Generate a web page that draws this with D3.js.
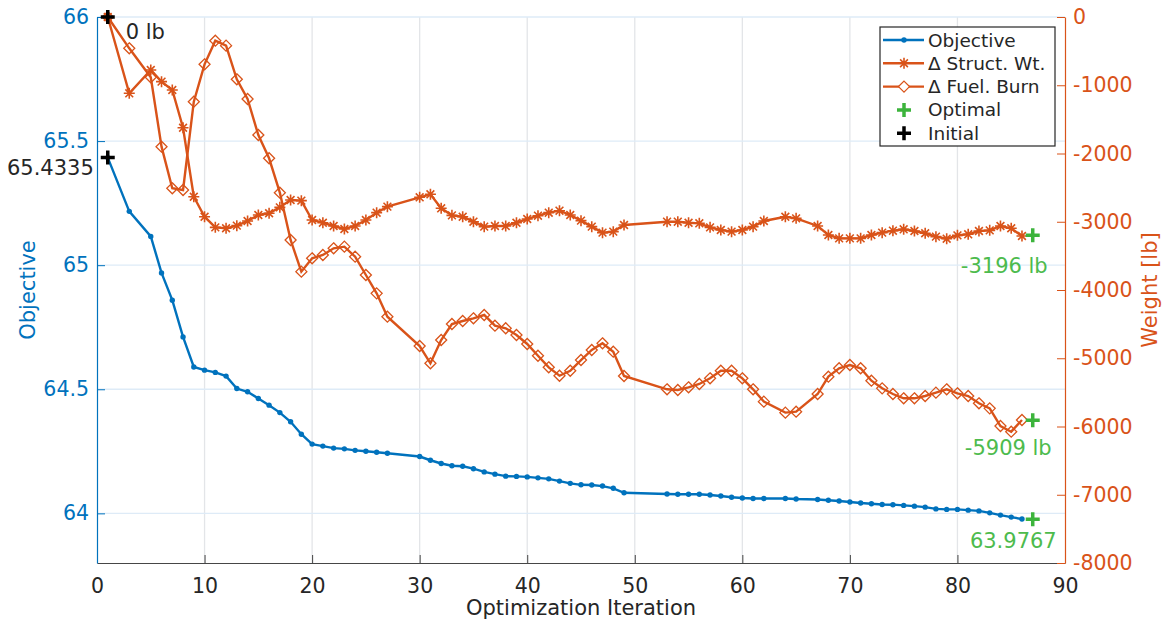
<!DOCTYPE html>
<html>
<head>
<meta charset="utf-8">
<script src="https://cdn.jsdelivr.net/npm/d3@7"></script>
<style>
  body { margin: 0; background: #fff; }
  svg { display: block; font-family: "DejaVu Sans", sans-serif; }
</style>
</head>
<body>
<svg id="chart" width="1166" height="623"></svg>
<script>
// iterations that were recorded (some iterations have no point)
const iterations = [1, 3, 5, 6, 7, 8, 9, 10, 11, 12, 13, 14, 15, 16, 17, 18, 19, 20, 21, 22, 23, 24, 25, 26, 27,
  30, 31, 32, 33, 34, 35, 36, 37, 38, 39, 40, 41, 42, 43, 44, 45, 46, 47, 48, 49,
  53, 54, 55, 56, 57, 58, 59, 60, 61, 62, 64, 65,
  67, 68, 69, 70, 71, 72, 73, 74, 75, 76, 77, 78, 79, 80, 81, 82, 83, 84, 85, 86];

const objective = [65.4335, 65.217, 65.116, 64.969, 64.859, 64.711, 64.59, 64.577, 64.568, 64.553, 64.503, 64.49,
  64.463, 64.436, 64.406, 64.369, 64.319, 64.279, 64.271, 64.263, 64.26, 64.254, 64.25, 64.246, 64.242,
  64.229, 64.214, 64.201, 64.192, 64.19, 64.18, 64.167, 64.158, 64.15, 64.149, 64.147, 64.143, 64.139, 64.13,
  64.121, 64.115, 64.114, 64.11, 64.101, 64.083,
  64.078, 64.077, 64.077, 64.077, 64.074, 64.07, 64.065, 64.062, 64.06, 64.06, 64.06, 64.058,
  64.056, 64.053, 64.05, 64.046, 64.042, 64.039, 64.036, 64.035, 64.032, 64.029, 64.025, 64.018, 64.016,
  64.016, 64.013, 64.01, 64.002, 63.993, 63.985, 63.977];

const structWt = [0, -1118, -777, -947, -1070, -1622, -2633, -2926, -3082, -3096, -3057, -2989, -2901, -2876,
  -2789, -2681, -2691, -2974, -3014, -3062, -3106, -3062, -2974, -2867, -2779,
  -2642, -2598, -2803, -2906, -2926, -2999, -3072, -3062, -3062, -3014, -2960, -2911, -2867, -2838, -2901,
  -2984, -3072, -3160, -3145, -3048,
  -2999, -2999, -3014, -3023, -3082, -3121, -3145, -3121, -3072, -2989, -2926, -2950,
  -3062, -3194, -3243, -3243, -3243, -3194, -3160, -3131, -3111, -3136, -3169, -3218, -3248, -3199,
  -3184, -3136, -3126, -3062, -3096, -3209];

const fuelBurn = [0, -459, -884, -1900, -2510, -2535, -1241, -693, -347, -420, -913, -1201, -1729, -2070,
  -2574, -3267, -3731, -3536, -3487, -3389, -3365, -3512, -3780, -4049, -4391,
  -4821, -5074, -4733, -4498, -4454, -4415, -4366, -4523, -4561, -4659, -4791, -4963, -5133, -5256, -5183,
  -5026, -4879, -4781, -4904, -5260,
  -5455, -5465, -5426, -5377, -5294, -5183, -5183, -5294, -5455, -5636, -5797, -5783,
  -5524, -5270, -5147, -5099, -5147, -5329, -5441, -5524, -5587, -5587, -5553, -5504, -5455, -5514,
  -5553, -5660, -5734, -5993, -6076, -5905];

const initialIter = 1;
const optimalIter = 87;
const optimal = { objective: 63.9767, structWt: -3196, fuelBurn: -5909 };

const xTicks = [0, 10, 20, 30, 40, 50, 60, 70, 80, 90];
const leftTicks = [64, 64.5, 65, 65.5, 66];
const rightTicks = [0, -1000, -2000, -3000, -4000, -5000, -6000, -7000, -8000];
const legendLabels = ["Objective", "\u0394 Struct. Wt.", "\u0394 Fuel. Burn", "Optimal", "Initial"];

const BLUE = "#0072BD", ORANGE = "#D95319", GREEN = "#3cb43c", GREEN_TXT = "#4dbb4d", INK = "#262626";

const svg = d3.select("#chart");
const L = 97, R = 1065, T = 17, B = 563;

const x = d3.scaleLinear().domain([0, 90]).range([L, R]);
const yL = d3.scaleLinear().domain([63.8, 66]).range([B, T]);
const yR = d3.scaleLinear().domain([-8000, 0]).range([B, T]);

// grid
svg.append("g").selectAll("line").data(xTicks.slice(1, -1)).join("line")
  .attr("x1", d => x(d)).attr("x2", d => x(d)).attr("y1", T).attr("y2", B)
  .attr("stroke", "#e3e5e8").attr("stroke-width", 1.3);
svg.append("g").selectAll("line").data(leftTicks).join("line")
  .attr("x1", L).attr("x2", R).attr("y1", d => yL(d)).attr("y2", d => yL(d))
  .attr("stroke", "#deebf7").attr("stroke-width", 1.3);

// axes
const xAxis = svg.append("g").attr("transform", `translate(0,${B})`)
  .call(d3.axisBottom(x).tickValues(xTicks).tickSizeInner(-8).tickSizeOuter(0).tickPadding(15));
xAxis.select(".domain").attr("stroke", INK).attr("stroke-width", 1.2).attr("opacity", 0.85);
xAxis.selectAll(".tick line").attr("stroke", INK).attr("opacity", 0.85);
xAxis.selectAll("text").attr("fill", INK).attr("font-size", 20.5).attr("font-family", "DejaVu Sans");

const leftAxis = svg.append("g").attr("transform", `translate(${L},0)`)
  .call(d3.axisLeft(yL).tickValues(leftTicks).tickFormat(d3.format("~g"))
    .tickSizeInner(-8).tickSizeOuter(0).tickPadding(8));
leftAxis.select(".domain").attr("stroke", BLUE).attr("stroke-width", 1.2);
leftAxis.selectAll(".tick line").attr("stroke", BLUE);
leftAxis.selectAll("text").attr("fill", BLUE).attr("font-size", 20.5).attr("font-family", "DejaVu Sans");

const rightAxis = svg.append("g").attr("transform", `translate(${R},0)`)
  .call(d3.axisRight(yR).tickValues(rightTicks).tickFormat(d => d3.format("d")(d).replace("\u2212", "-"))
    .tickSizeInner(-8).tickSizeOuter(0).tickPadding(8));
rightAxis.select(".domain").attr("stroke", ORANGE).attr("stroke-width", 1.2);
rightAxis.selectAll(".tick line").attr("stroke", ORANGE);
rightAxis.selectAll("text").attr("fill", ORANGE).attr("font-size", 20.5).attr("font-family", "DejaVu Sans");

// axis titles
svg.append("text").attr("x", (L + R) / 2).attr("y", 615).attr("text-anchor", "middle")
  .attr("font-size", 21).attr("fill", INK).text("Optimization Iteration");
svg.append("text").attr("transform", `translate(35,${(T + B) / 2}) rotate(-90)`)
  .attr("text-anchor", "middle").attr("font-size", 21).attr("fill", BLUE).text("Objective");
svg.append("text").attr("transform", `translate(1157,${(T + B) / 2}) rotate(-90)`)
  .attr("text-anchor", "middle").attr("font-size", 21).attr("fill", ORANGE).text("Weight [lb]");

// marker shapes
const asterisk = (r) => {
  const d = r * 0.707;
  return `M${-r},0L${r},0M0,${-r}L0,${r}M${-d},${-d}L${d},${d}M${-d},${d}L${d},${-d}`;
};
const diamond = (r) => `M0,${-r}L${r},0L0,${r}L${-r},0Z`;
const plus = (r) => `M${-r},0L${r},0M0,${-r}L0,${r}`;

const pts = (ys) => iterations.map((it, i) => [it, ys[i]]);

// objective
const gObj = svg.append("g");
gObj.append("path").datum(pts(objective))
  .attr("d", d3.line().x(d => x(d[0])).y(d => yL(d[1])))
  .attr("fill", "none").attr("stroke", BLUE).attr("stroke-width", 2.4);
gObj.selectAll("circle").data(pts(objective)).join("circle")
  .attr("cx", d => x(d[0])).attr("cy", d => yL(d[1])).attr("r", 2.7).attr("fill", BLUE);

// struct weight
const gS = svg.append("g");
gS.append("path").datum(pts(structWt))
  .attr("d", d3.line().x(d => x(d[0])).y(d => yR(d[1])))
  .attr("fill", "none").attr("stroke", ORANGE).attr("stroke-width", 2.4);
gS.selectAll(".m").data(pts(structWt)).join("path").attr("class", "m")
  .attr("transform", d => `translate(${x(d[0])},${yR(d[1])})`)
  .attr("d", asterisk(5.5)).attr("stroke", ORANGE).attr("stroke-width", 1.6).attr("fill", "none");

// fuel burn
const gF = svg.append("g");
gF.append("path").datum(pts(fuelBurn))
  .attr("d", d3.line().x(d => x(d[0])).y(d => yR(d[1])))
  .attr("fill", "none").attr("stroke", ORANGE).attr("stroke-width", 2.4);
gF.selectAll(".m").data(pts(fuelBurn)).join("path").attr("class", "m")
  .attr("transform", d => `translate(${x(d[0])},${yR(d[1])})`)
  .attr("d", diamond(5.5)).attr("stroke", ORANGE).attr("stroke-width", 1.3).attr("fill", "none");

// initial / optimal markers
const marks = [
  { px: x(initialIter), py: yL(objective[0]), c: "#000" },
  { px: x(initialIter), py: yR(structWt[0]), c: "#000" },
  { px: x(optimalIter), py: yL(optimal.objective), c: GREEN },
  { px: x(optimalIter), py: yR(optimal.structWt), c: GREEN },
  { px: x(optimalIter), py: yR(optimal.fuelBurn), c: GREEN }
];
svg.append("g").selectAll("path").data(marks).join("path")
  .attr("transform", d => `translate(${d.px},${d.py})`)
  .attr("d", plus(7)).attr("stroke", d => d.c).attr("stroke-width", 3.5);

// annotations
const notes = [
  { t: "0 lb", px: x(initialIter) + 18, py: yR(0) + 22, a: "start", c: INK },
  { t: d3.format(".4f")(objective[0]), px: x(initialIter) - 14, py: yL(objective[0]) + 17, a: "end", c: INK },
  { t: `${optimal.structWt} lb`, px: x(optimalIter) + 15, py: yR(optimal.structWt) + 38, a: "end", c: GREEN_TXT },
  { t: `${optimal.fuelBurn} lb`, px: x(optimalIter) + 19, py: yR(optimal.fuelBurn) + 35, a: "end", c: GREEN_TXT },
  { t: d3.format(".4f")(optimal.objective), px: x(optimalIter) + 24, py: yL(optimal.objective) + 29, a: "end", c: GREEN_TXT }
];
svg.append("g").selectAll("text").data(notes).join("text")
  .attr("x", d => d.px).attr("y", d => d.py).attr("text-anchor", d => d.a)
  .attr("font-size", 21).attr("fill", d => d.c).text(d => d.t);

// legend
const lg = svg.append("g").attr("transform", "translate(880,27)");
lg.append("rect").attr("width", 175).attr("height", 119)
  .attr("fill", "#fff").attr("stroke", INK).attr("stroke-width", 1.2);
const rowY = (i) => 13 + i * 23.3;
const legendStyle = [
  { line: true, c: BLUE, m: "dot" },
  { line: true, c: ORANGE, m: "ast" },
  { line: true, c: ORANGE, m: "dia" },
  { line: false, c: GREEN, m: "plus" },
  { line: false, c: "#000", m: "plus" }
];
legendLabels.forEach((lab, i) => {
  const s = legendStyle[i];
  const g = lg.append("g").attr("transform", `translate(0,${rowY(i)})`);
  if (s.line) g.append("line").attr("x1", 3).attr("x2", 44).attr("stroke", s.c).attr("stroke-width", 2.4);
  if (s.m === "dot") g.append("circle").attr("cx", 24).attr("r", 2.7).attr("fill", s.c);
  if (s.m === "ast") g.append("path").attr("transform", "translate(24,0)").attr("d", asterisk(5.5))
    .attr("stroke", s.c).attr("stroke-width", 1.6);
  if (s.m === "dia") g.append("path").attr("transform", "translate(24,0)").attr("d", diamond(5.5))
    .attr("stroke", s.c).attr("stroke-width", 1.3).attr("fill", "#fff");
  if (s.m === "plus") g.append("path").attr("transform", "translate(24,0)").attr("d", plus(7))
    .attr("stroke", s.c).attr("stroke-width", 3.5);
  g.append("text").attr("x", 48).attr("y", 6.5).attr("font-size", 18.5).attr("fill", INK).text(lab);
});
</script>
</body>
</html>
